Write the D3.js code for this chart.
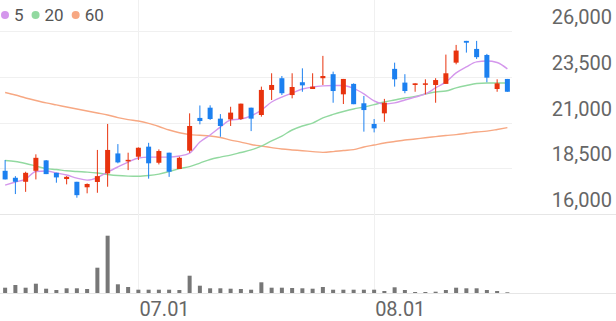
<!DOCTYPE html>
<html>
<head>
<meta charset="utf-8">
<script src="https://cdn.jsdelivr.net/npm/d3@7"></script>
<style>
  body { margin: 0; background: #fff; }
  svg { display: block; font-family: Roboto, "Noto Sans", sans-serif; }
</style>
</head>
<body>
<svg id="chart" width="616" height="321"></svg>
<script>
const dates = ['06.12','06.13','06.16','06.17','06.18','06.19','06.20','06.23','06.24','06.25',
  '06.26','06.27','06.30','07.01','07.02','07.03','07.04','07.07','07.08','07.09',
  '07.10','07.11','07.14','07.15','07.16','07.17','07.18','07.21','07.22','07.23',
  '07.24','07.25','07.28','07.29','07.30','07.31','08.01','08.04','08.05','08.06',
  '08.07','08.08','08.11','08.12','08.13','08.14','08.18','08.19','08.20','08.21'];

const opens = [18360, 17980, 17760, 18360, 18930, 18250, 17910, 17760, 17460, 17750,
  18220, 19310, 18880, 19130, 19680, 18800, 19350, 18460, 19460, 21250,
  21810, 21210, 21170, 21190, 21810, 21410, 22780, 23420, 22500, 23200,
  22830, 23420, 23640, 22540, 23110, 22050, 20920, 21500, 23930, 23180,
  23050, 23090, 23050, 23110, 24270, 25460, 25020, 24690, 22830, 23380];
const highs = [18950, 18070, 18310, 19260, 18950, 18250, 18070, 17760, 17670, 19500,
  20920, 19820, 19350, 19640, 19890, 19530, 19350, 19130, 21500, 21930,
  21940, 21460, 21860, 22030, 21810, 22960, 23690, 23540, 23690, 23960,
  23690, 24640, 23780, 23380, 23140, 22450, 21190, 22290, 24270, 23640,
  23140, 23360, 23420, 24710, 25240, 25460, 25460, 24750, 23360, 23380];
const lows = [17890, 17090, 17210, 17890, 18180, 17710, 17620, 16890, 17130, 17160,
  17490, 18770, 18400, 18950, 17930, 18710, 18030, 18460, 19350, 20900,
  21140, 20220, 20810, 21140, 20530, 21320, 22230, 22500, 22320, 22680,
  22830, 23050, 22080, 22010, 22000, 20500, 20460, 21040, 22960, 22600,
  22680, 22540, 22080, 23110, 24180, 24820, 24470, 23200, 22680, 22680];
const closes = [17890, 17760, 18250, 19070, 18180, 18000, 18030, 17030, 17640, 18070,
  19500, 18820, 18960, 19620, 18770, 19440, 18310, 19070, 20810, 21080,
  21190, 20810, 21540, 22030, 21210, 22780, 23050, 22600, 22940, 23030,
  22960, 23540, 22720, 23380, 22000, 21680, 20680, 22080, 23360, 22720,
  23140, 23140, 23320, 23690, 24930, 25360, 24570, 23450, 23140, 22680];
const volumes = [530, 800, 530, 930, 430, 300, 470, 470, 400, 2530,
  5730, 870, 600, 330, 330, 330, 330, 300, 1730, 730,
  470, 470, 430, 400, 330, 1070, 530, 530, 500, 470,
  430, 600, 330, 330, 330, 330, 330, 200, 570, 300,
  100, 100, 130, 300, 530, 470, 470, 300, 200, 70];

const ma5 = [17580, 17750, 17910, 18320, 18350, 18240, 18130, 17960, 17850, 17990,
  18290, 18570, 18840, 19060, 19110, 19110, 19110, 19170, 19330, 19930,
  20320, 20750, 21140, 21190, 21360, 21680, 22120, 22390, 22610, 22830,
  22940, 23000, 23020, 23020, 22860, 22560, 22180, 22010, 22070, 22230,
  22390, 22560, 22890, 23220, 23710, 24040, 24310, 24360, 24280, 23930];
const ma20 = [18920, 18870, 18760, 18620, 18480, 18430, 18360, 18320, 18290, 18240,
  18160, 18100, 18070, 18060, 18100, 18180, 18320, 18480, 18590, 18780,
  18980, 19110, 19220, 19360, 19500, 19710, 19990, 20260, 20590, 20810,
  20970, 21250, 21440, 21600, 21740, 21850, 21980, 22120, 22230, 22340,
  22420, 22560, 22670, 22720, 22890, 23020, 23130, 23160, 23160, 23160];
const ma60 = [22640, 22500, 22340, 22200, 22070, 21960, 21850, 21740, 21630, 21520,
  21410, 21270, 21160, 21080, 20950, 20780, 20590, 20440, 20340, 20300,
  20260, 20180, 20040, 19930, 19800, 19710, 19630, 19550, 19500, 19460,
  19410, 19370, 19410, 19470, 19520, 19660, 19770, 19880, 19960, 20040,
  20100, 20170, 20230, 20290, 20340, 20410, 20480, 20530, 20620, 20720];

const yTicks = [16000, 18500, 21000, 23500, 26000];
const xTicks = ['07.01', '08.01'];
const maSeries = [
  { label: '5', values: ma5, color: '#d497ec' },
  { label: '20', values: ma20, color: '#92d9a0' },
  { label: '60', values: ma60, color: '#f7a883' }
];

const upColor = '#e8330e';
const downColor = '#1c80f0';

const svg = d3.select('#chart');

const x = d3.scaleBand().domain(dates).range([0, 512.5]);
const cx = (d) => x(d) + x.bandwidth() / 2;
const y = d3.scaleLinear().domain([16000, 26000]).range([214, 31]);
const yVol = d3.scaleLinear().domain([0, 6000]).range([293, 233]);

// grid
svg.append('g')
  .selectAll('line')
  .data(yTicks)
  .join('line')
  .attr('x1', 0)
  .attr('x2', (d) => d === 16000 ? 616 : 512)
  .attr('y1', (d) => Math.round(y(d)) + 0.5)
  .attr('y2', (d) => Math.round(y(d)) + 0.5)
  .attr('stroke', (d) => d === 16000 ? '#e6e6e6' : '#f0f0f0');

svg.append('g')
  .selectAll('line')
  .data(xTicks)
  .join('line')
  .attr('x1', (d) => Math.round(cx(d)) + 0.5)
  .attr('x2', (d) => Math.round(cx(d)) + 0.5)
  .attr('y1', 0)
  .attr('y2', 293)
  .attr('stroke', '#f0f0f0');

svg.append('line')
  .attr('x1', 0).attr('x2', 616)
  .attr('y1', 293.5).attr('y2', 293.5)
  .attr('stroke', '#e6e6e6');

// y labels, sitting above their grid lines
svg.append('g')
  .selectAll('text')
  .data(yTicks)
  .join('text')
  .attr('x', 612)
  .attr('y', (d) => y(d) - 7)
  .attr('text-anchor', 'end')
  .attr('font-size', 20)
  .attr('fill', '#666')
  .text((d) => d3.format(',')(d));

// x labels
svg.append('g')
  .selectAll('text')
  .data(xTicks)
  .join('text')
  .attr('x', (d) => cx(d) + 1)
  .attr('y', 316)
  .attr('font-size', 20)
  .attr('fill', '#666')
  .text((d) => d);

// volume
svg.append('g')
  .selectAll('rect')
  .data(volumes)
  .join('rect')
  .attr('x', (d, i) => cx(dates[i]) - 2)
  .attr('width', 4)
  .attr('y', (d) => yVol(d))
  .attr('height', (d) => 293 - yVol(d))
  .attr('fill', '#777');

// moving averages
const line = d3.line()
  .x((d, i) => cx(dates[i]))
  .y((d) => y(d))
  .curve(d3.curveMonotoneX);

svg.append('g')
  .selectAll('path')
  .data(maSeries.slice().reverse())
  .join('path')
  .attr('d', (d) => line(d.values))
  .attr('fill', 'none')
  .attr('stroke', (d) => d.color)
  .attr('stroke-width', 1.4);

// candles
const candles = svg.append('g')
  .selectAll('g')
  .data(dates)
  .join('g')
  .attr('fill', (d, i) => closes[i] >= opens[i] ? upColor : downColor)
  .attr('stroke', (d, i) => closes[i] >= opens[i] ? upColor : downColor);

candles.append('line')
  .attr('x1', (d) => cx(d))
  .attr('x2', (d) => cx(d))
  .attr('y1', (d, i) => y(highs[i]))
  .attr('y2', (d, i) => y(lows[i]))
  .attr('stroke-width', 1);

candles.append('rect')
  .attr('x', (d) => cx(d) - 2.5)
  .attr('width', 5)
  .attr('y', (d, i) => y(Math.max(opens[i], closes[i])))
  .attr('height', (d, i) => Math.max(1.5, Math.abs(y(opens[i]) - y(closes[i]))))
  .attr('stroke', 'none');

// legend
const legend = svg.append('g').attr('transform', 'translate(5,15)');
let lx = 0;
maSeries.forEach((s) => {
  legend.append('circle').attr('cx', lx).attr('cy', 0).attr('r', 4).attr('fill', s.color);
  const t = legend.append('text')
    .attr('x', lx + 9)
    .attr('y', 6)
    .attr('font-size', 17)
    .attr('fill', '#555')
    .text(s.label);
  lx += 9 + t.node().getComputedTextLength() + 12;
});
</script>
</body>
</html>
